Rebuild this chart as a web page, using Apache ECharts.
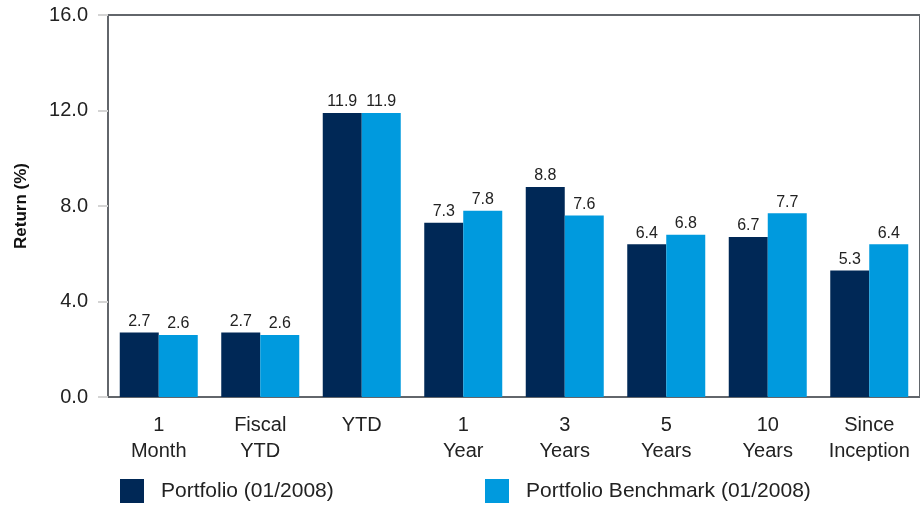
<!DOCTYPE html>
<html>
<head>
<meta charset="utf-8">
<script src="https://cdn.jsdelivr.net/npm/echarts@6/dist/echarts.min.js"></script>
<style>
  html, body { margin: 0; padding: 0; background: #fff; }
  #chart { width: 920px; height: 506px; }
</style>
</head>
<body>
<div id="chart"></div>
<script>
const categories = ['1\nMonth', 'Fiscal\nYTD', 'YTD', '1\nYear', '3\nYears', '5\nYears', '10\nYears', 'Since\nInception'];
const portfolio = [2.7, 2.7, 11.9, 7.3, 8.8, 6.4, 6.7, 5.3];
const benchmark = [2.6, 2.6, 11.9, 7.8, 7.6, 6.8, 7.7, 6.4];
const seriesNames = ['Portfolio (01/2008)', 'Portfolio Benchmark (01/2008)'];
const yTicks = [0, 4, 8, 12, 16];

const NAVY = '#002856';
const BLUE = '#009ADE';
const FONT = '"Liberation Sans", Arial, sans-serif';

const chart = echarts.init(document.getElementById('chart'));

const barLabel = {
  show: true,
  position: 'top',
  distance: 3,
  fontFamily: FONT,
  fontSize: 16,
  color: '#222',
  formatter: p => p.value.toFixed(1),
};

const legendBase = {
  top: 479,
  padding: 0,
  itemWidth: 24,
  itemHeight: 24,
  itemGap: 0,
  icon: 'rect',
  textStyle: { fontFamily: FONT, fontSize: 21, color: '#222', padding: [0, 0, 0, 12] },
};

chart.setOption({
  animation: false,
  backgroundColor: '#fff',
  grid: {
    left: 108,
    right: -3,
    top: 15,
    bottom: 109,
    show: true,
    borderColor: '#62666b',
    borderWidth: 2,
  },
  legend: [
    { ...legendBase, left: 120, data: [seriesNames[0]] },
    { ...legendBase, left: 485, data: [seriesNames[1]] },
  ],
  xAxis: {
    type: 'category',
    data: categories,
    axisLine: { lineStyle: { color: '#62666b', width: 2 } },
    axisTick: { alignWithLabel: true, length: 9, lineStyle: { color: '#d4d4d4', width: 2 } },
    axisLabel: {
      fontFamily: FONT,
      fontSize: 20,
      color: '#222',
      lineHeight: 26,
      margin: 15,
      interval: 0,
    },
  },
  yAxis: {
    type: 'value',
    min: yTicks[0],
    max: yTicks[yTicks.length - 1],
    interval: 4,
    name: 'Return (%)',
    nameLocation: 'middle',
    nameRotate: 90,
    nameGap: 78,
    nameTextStyle: { fontFamily: FONT, fontSize: 17, fontWeight: 'bold', color: '#111' },
    splitLine: { show: false },
    axisLine: { show: true, lineStyle: { color: '#62666b', width: 2 } },
    axisTick: { show: true, length: 10, lineStyle: { color: '#d4d4d4', width: 2 } },
    axisLabel: {
      fontFamily: FONT,
      fontSize: 20,
      color: '#222',
      margin: 20,
      formatter: v => v.toFixed(1),
    },
  },
  series: [
    {
      name: seriesNames[0],
      type: 'bar',
      data: portfolio,
      barWidth: 39,
      barGap: '0%',
      itemStyle: { color: NAVY },
      label: barLabel,
    },
    {
      name: seriesNames[1],
      type: 'bar',
      data: benchmark,
      barWidth: 39,
      barGap: '0%',
      itemStyle: { color: BLUE },
      label: barLabel,
    },
  ],
});
</script>
</body>
</html>
